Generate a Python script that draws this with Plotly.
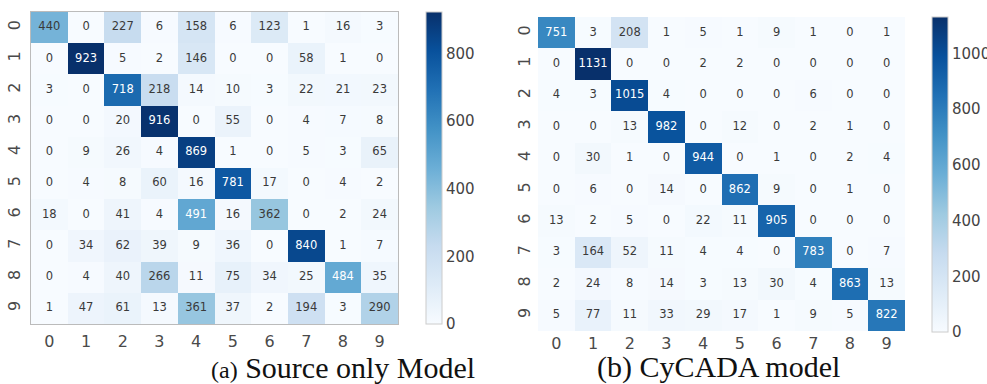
import plotly.graph_objects as go

labels = ["0", "1", "2", "3", "4", "5", "6", "7", "8", "9"]

source_only = [
    [440, 0, 227, 6, 158, 6, 123, 1, 16, 3],
    [0, 923, 5, 2, 146, 0, 0, 58, 1, 0],
    [3, 0, 718, 218, 14, 10, 3, 22, 21, 23],
    [0, 0, 20, 916, 0, 55, 0, 4, 7, 8],
    [0, 9, 26, 4, 869, 1, 0, 5, 3, 65],
    [0, 4, 8, 60, 16, 781, 17, 0, 4, 2],
    [18, 0, 41, 4, 491, 16, 362, 0, 2, 24],
    [0, 34, 62, 39, 9, 36, 0, 840, 1, 7],
    [0, 4, 40, 266, 11, 75, 34, 25, 484, 35],
    [1, 47, 61, 13, 361, 37, 2, 194, 3, 290],
]

cycada = [
    [751, 3, 208, 1, 5, 1, 9, 1, 0, 1],
    [0, 1131, 0, 0, 2, 2, 0, 0, 0, 0],
    [4, 3, 1015, 4, 0, 0, 0, 6, 0, 0],
    [0, 0, 13, 982, 0, 12, 0, 2, 1, 0],
    [0, 30, 1, 0, 944, 0, 1, 0, 2, 4],
    [0, 6, 0, 14, 0, 862, 9, 0, 1, 0],
    [13, 2, 5, 0, 22, 11, 905, 0, 0, 0],
    [3, 164, 52, 11, 4, 4, 0, 783, 0, 7],
    [2, 24, 8, 14, 3, 13, 30, 4, 863, 13],
    [5, 77, 11, 33, 29, 17, 1, 9, 5, 822],
]

captions = ["Source only Model", "CyCADA model"]
caption_tags = ["(a)", "(b)"]
cbar_ticks = [0, 200, 400, 600, 800, 1000]

blues = [
    [0.0, "#f7fbff"], [0.125, "#deebf7"], [0.25, "#c6dbef"], [0.375, "#9ecae1"],
    [0.5, "#6baed6"], [0.625, "#4292c6"], [0.75, "#2171b5"], [0.875, "#08519c"],
    [1.0, "#08306b"],
]

TICK_FONT = dict(family="DejaVu Sans", size=16, color="#4a4a4a")

fig = go.Figure()

panels = [
    dict(data=source_only, xd=[31 / 987, 398 / 987], yd=[1 - 324 / 384, 1 - 12 / 384],
         cbx=420 / 987, cblen=312, cby=1 - 168 / 384, frame=True, xa="x", ya="y",
         standoff=3),
    dict(data=cycada, xd=[538 / 987, 905 / 987], yd=[1 - 331 / 384, 1 - 17 / 384],
         cbx=926 / 987, cblen=315, cby=1 - 174.5 / 384, frame=False, xa="x2", ya="y2",
         standoff=1),
]

for i, p in enumerate(panels):
    z = p["data"]
    zmax = max(max(r) for r in z)
    fig.add_trace(go.Heatmap(
        z=z, x=labels, y=labels, colorscale=blues, zmin=0, zmax=zmax,
        xaxis=p["xa"], yaxis=p["ya"], hoverinfo="skip", xgap=0, ygap=0,
        colorbar=dict(
            x=p["cbx"], xanchor="left", y=p["cby"], yanchor="middle",
            thickness=16, len=p["cblen"], lenmode="pixels",
            tickvals=cbar_ticks, ticks="", ticklabelposition="outside",
            tickfont=dict(family="DejaVu Sans", size=15, color="#444444"),
            outlinewidth=1, outlinecolor="#cccccc", xpad=6, ypad=0,
        ),
    ))
    xs, ys, ts, cs = [], [], [], []
    for r, row in enumerate(z):
        for c, v in enumerate(row):
            xs.append(labels[c])
            ys.append(labels[r])
            ts.append(str(v))
            cs.append("#ffffff" if v / zmax > 0.5 else "#3a3a3a")
    fig.add_trace(go.Scatter(
        x=xs, y=ys, text=ts, mode="text", xaxis=p["xa"], yaxis=p["ya"],
        textfont=dict(family="DejaVu Sans", size=11.5, color=cs),
        hoverinfo="skip", showlegend=False,
    ))
    sfx = "" if i == 0 else "2"
    fig.layout["xaxis" + sfx] = dict(
        domain=p["xd"], anchor="y" + sfx, tickfont=TICK_FONT, ticks="",
        showgrid=False, zeroline=False, showline=p["frame"], mirror=True,
        linecolor="#bbbbbb", linewidth=1, ticklabelstandoff=p["standoff"],
        automargin=False,
    )
    fig.layout["yaxis" + sfx] = dict(
        domain=p["yd"], anchor="x" + sfx, tickfont=TICK_FONT, ticks="",
        autorange="reversed", showgrid=False, zeroline=False, tickangle=-90,
        showline=p["frame"], mirror=True, linecolor="#bbbbbb", linewidth=1,
        ticklabelstandoff=4, automargin=False,
    )

fig.add_annotation(
    x=477 / 987, y=1 - 367 / 384, xref="paper", yref="paper", xanchor="right",
    yanchor="middle", showarrow=False,
    text="<span style='font-size:24px'>" + caption_tags[0] + "</span> " + captions[0],
    font=dict(family="Liberation Serif", size=30, color="#111111"),
)
fig.add_annotation(
    x=842 / 987, y=1 - 367 / 384, xref="paper", yref="paper", xanchor="right",
    yanchor="middle", showarrow=False,
    text=caption_tags[1] + " " + captions[1],
    font=dict(family="Liberation Serif", size=30, color="#111111"),
)

fig.update_layout(
    width=987, height=384, margin=dict(l=0, r=0, t=0, b=0, autoexpand=False),
    paper_bgcolor="white", plot_bgcolor="white", showlegend=False,
)

fig.write_html(
    "out.html",
    config={"displayModeBar": False},
    post_script="document.body.style.margin='0';document.body.style.overflow='hidden';",
)
